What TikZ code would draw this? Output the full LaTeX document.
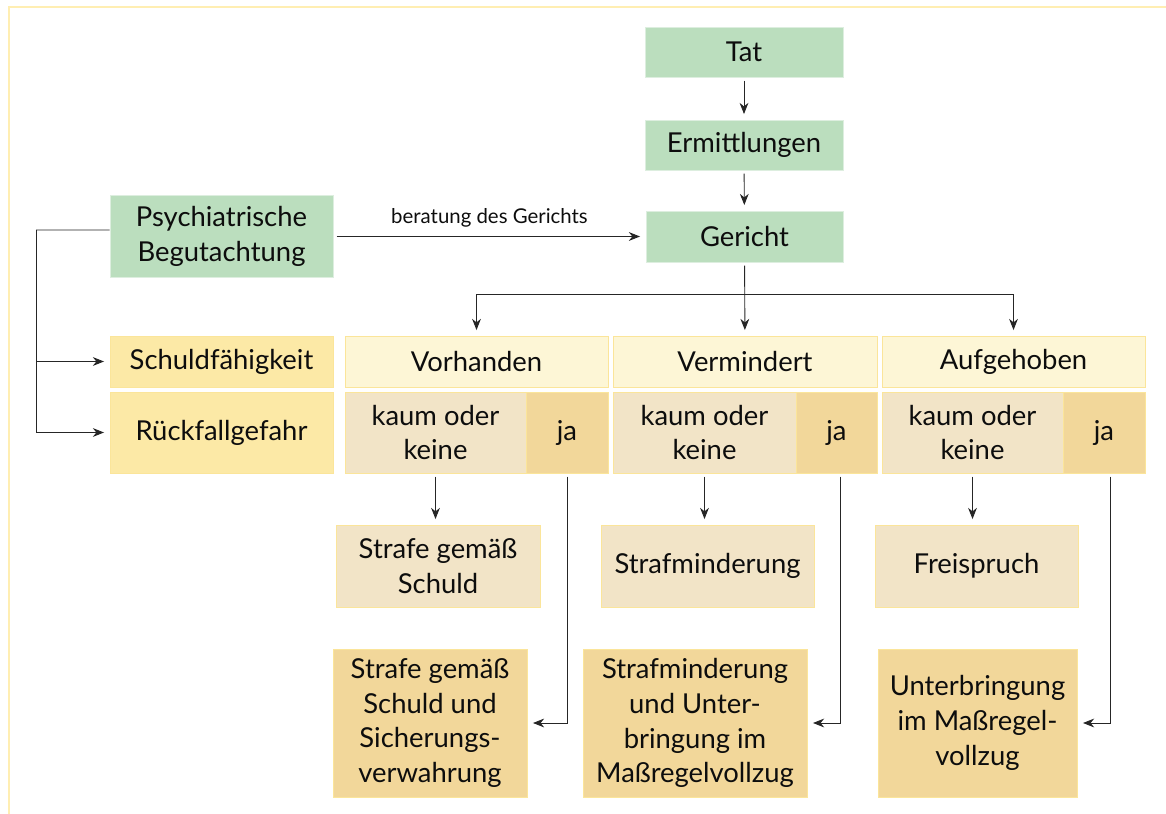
\documentclass[tikz,border=0pt]{standalone}
\usepackage{fontspec}
\setmainfont{Lato}
\usetikzlibrary{arrows.meta}

\definecolor{gruen}{HTML}{BBDEBE}
\definecolor{gelb}{HTML}{FCE9A6}
\definecolor{hellgelb}{HTML}{FDF6D6}
\definecolor{beige}{HTML}{F2E4C7}
\definecolor{ocker}{HTML}{F2D79A}
\definecolor{rand}{HTML}{FBE59A}
\definecolor{rahmen}{HTML}{FFEEB2}

\tikzset{
  kasten/.style={draw=rand, line width=0.5pt, inner sep=0pt, align=center, text=black!95,
    font=\fontsize{19.5}{24.8}\selectfont},
  gruenbox/.style={kasten, fill=gruen, draw=gruen!50!white},
  gelbbox/.style={kasten, fill=gelb},
  hellbox/.style={kasten, fill=hellgelb},
  beigebox/.style={kasten, fill=beige},
  ockerbox/.style={kasten, fill=ocker},
  pfeil/.style={-{Stealth[length=2.8mm,width=2.2mm,inset=0.9mm]}, line width=0.65pt, draw=black!85,
    shorten <=0.08cm, shorten >=0.14cm},
  linie/.style={line width=0.65pt, draw=black!85},
}

\begin{document}
\begin{tikzpicture}[x=0.025cm, y=-0.025cm]
			%%%%% START %%%%%
			\useasboundingbox (0,0) rectangle (1166,814);
			\draw[rahmen, line width=1.4pt] (9,814) -- (9,7) -- (1166,7);
			
			% Verfahren
			\node[gruenbox, minimum width=4.95cm, minimum height=1.25cm] (tat) at (744,52) {Tat};
			\node[gruenbox, minimum width=4.95cm, minimum height=1.25cm] (ermittlung) at (744,145) {Ermittlungen};
			\node[gruenbox, minimum width=4.925cm, minimum height=1.275cm] (gericht) at (744.5,236.5) {Gericht};
			\node[gruenbox, minimum width=5.575cm, minimum height=2.05cm] (psych) at (221.5,236) {Psychiatrische\\Begutachtung};
			
			% Kriterien
			\node[gelbbox, minimum width=5.575cm, minimum height=1.275cm] (schuld) at (221.5,361.5) {Schuldfähigkeit};
			\node[gelbbox, minimum width=5.575cm, minimum height=2.025cm] (rueckfall) at (221.5,432.5) {Rückfallgefahr};
			
			\node[hellbox, minimum width=6.575cm, minimum height=1.275cm] (vorh) at (476.5,361.5) {Vorhanden};
			\node[hellbox, minimum width=6.6cm, minimum height=1.275cm] (verm) at (745,361.5) {Vermindert};
			\node[hellbox, minimum width=6.575cm, minimum height=1.275cm] (aufg) at (1013.5,361.5) {Aufgehoben};
			
			\node[beigebox, minimum width=4.525cm, minimum height=2.025cm] (kaum1) at (435.5,432.5) {kaum oder\\keine};
			\node[ockerbox, minimum width=2.05cm, minimum height=2.025cm] (ja1) at (567,432.5) {ja};
			\node[beigebox, minimum width=4.575cm, minimum height=2.025cm] (kaum2) at (704.5,432.5) {kaum oder\\keine};
			\node[ockerbox, minimum width=2.025cm, minimum height=2.025cm] (ja2) at (836.5,432.5) {ja};
			\node[beigebox, minimum width=4.525cm, minimum height=2.025cm] (kaum3) at (972.5,432.5) {kaum oder\\keine};
			\node[ockerbox, minimum width=2.05cm, minimum height=2.025cm] (ja3) at (1104,432.5) {ja};
			
			% Folgen
			\node[beigebox, minimum width=5.1cm, minimum height=2.05cm] (strafe) at (438,566) {Strafe gemäß\\Schuld};
			\node[beigebox, minimum width=5.325cm, minimum height=2.05cm] (minderung) at (707.5,566) {Strafminderung};
			\node[beigebox, minimum width=5.075cm, minimum height=2.05cm] (freispruch) at (976.5,566) {Freispruch};
			
			\node[ockerbox, minimum width=4.85cm, minimum height=3.7cm] (sicher) at (430,723) {Strafe gemäß\\Schuld und\\Sicherungs-\\verwahrung};
			\node[ockerbox, minimum width=5.6cm, minimum height=3.7cm] (unter2) at (695,723) {Strafminderung\\und Unter-\\bringung im\\Maßregelvollzug};
			\node[ockerbox, minimum width=4.975cm, minimum height=3.7cm] (unter3) at (977.5,723) {Unterbringung\\im Maßregel-\\vollzug};
			
			% Pfeile
			\draw[pfeil] (tat) -- (ermittlung);
			\draw[pfeil] (ermittlung) -- (gericht);
			\draw[pfeil] (psych.east |- gericht) -- node[above=0.1cm, font=\fontsize{14.5}{16}\selectfont, text=black!95] {beratung des Gerichts} (gericht.west);
			
			\coordinate (ecke) at (36,230);
			\draw[linie] ([yshift=0.15cm]psych.west) -- (ecke);
			\draw[pfeil, shorten <=0pt] (ecke) |- (rueckfall.west);
			\draw[pfeil, shorten <=0pt] (ecke |- schuld.west) -- (schuld.west);
			
			\coordinate (bus) at (744,294);
			\draw[pfeil] (gericht) -- (verm);
			\draw[pfeil, shorten <=0pt] (bus) -| (vorh.north);
			\draw[pfeil, shorten <=0pt] (bus) -| (aufg.north);
			
			\draw[pfeil] (kaum1.south) -- (kaum1.south |- strafe.north);
			\draw[pfeil] (kaum2.south) -- (kaum2.south |- minderung.north);
			\draw[pfeil] (kaum3.south) -- (kaum3.south |- freispruch.north);
			
			\draw[pfeil] (ja1.south) |- (sicher.east);
			\draw[pfeil] ([xshift=0.11cm]ja2.south) |- (unter2.east);
			\draw[pfeil] ([xshift=0.16cm]ja3.south) |- (unter3.east);
			%%%%% END %%%%%
\end{tikzpicture}
\end{document}
